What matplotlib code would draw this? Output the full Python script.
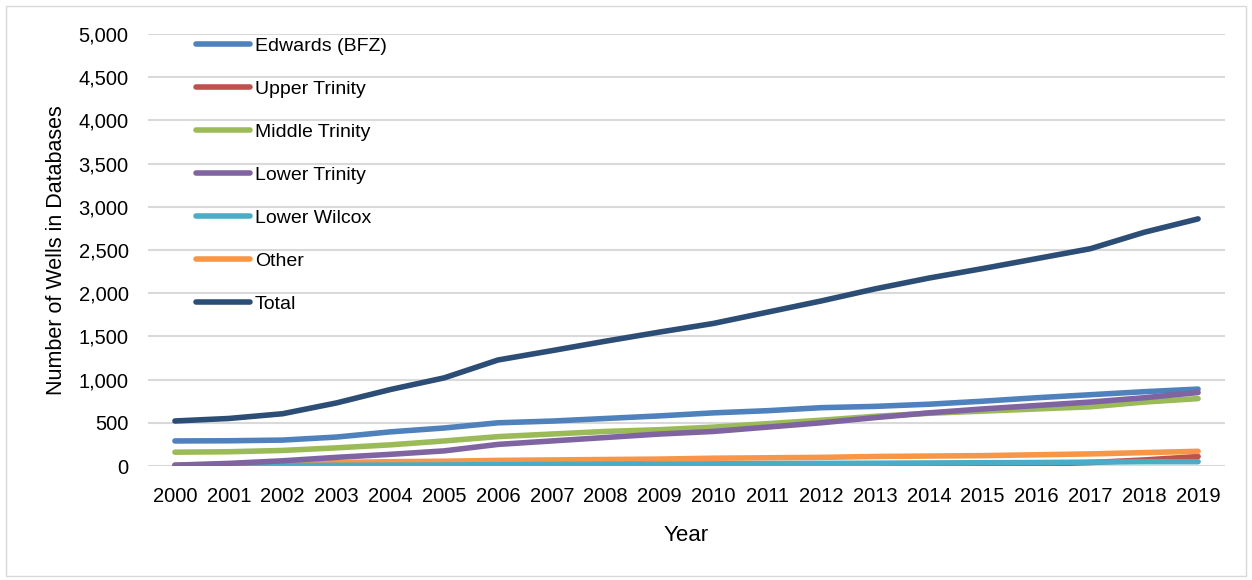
import matplotlib
matplotlib.use("Agg")
import matplotlib.pyplot as plt
from matplotlib.patches import Rectangle
from matplotlib.ticker import FuncFormatter

plt.rcParams['font.family'] = ['Liberation Sans', 'DejaVu Sans']

years = [str(y) for y in range(2000, 2020)]
edwards = [290, 292, 300, 335, 395, 440, 500, 520, 550, 580, 615, 640, 675, 690, 715, 750, 790, 825, 860, 890]
upper_trinity = [0, 0, 0, 0, 0, 1, 2, 3, 3, 4, 5, 6, 8, 10, 12, 15, 20, 40, 70, 110]
middle_trinity = [160, 165, 180, 210, 245, 290, 340, 370, 400, 420, 450, 490, 530, 575, 610, 635, 660, 685, 740, 780]
lower_trinity = [10, 30, 60, 100, 135, 175, 250, 290, 330, 370, 400, 450, 500, 560, 615, 660, 700, 740, 790, 850]
lower_wilcox = [0, 2, 5, 8, 10, 12, 15, 18, 20, 22, 25, 28, 30, 32, 35, 38, 40, 45, 50, 50]
other = [10, 20, 30, 40, 50, 55, 65, 70, 75, 80, 90, 95, 100, 110, 115, 120, 130, 140, 155, 170]
total = [521, 550, 605, 730, 885, 1020, 1227, 1335, 1445, 1550, 1650, 1780, 1910, 2050, 2175, 2285, 2400, 2515, 2705, 2860]

series = [
    ("Edwards (BFZ)", edwards, "#4F81BD"),
    ("Upper Trinity", upper_trinity, "#C0504D"),
    ("Middle Trinity", middle_trinity, "#9BBB59"),
    ("Lower Trinity", lower_trinity, "#8064A2"),
    ("Lower Wilcox", lower_wilcox, "#4BACC6"),
    ("Other", other, "#F79646"),
    ("Total", total, "#2C4D75"),
]

fig = plt.figure(figsize=(12.52, 5.8), dpi=100)
ax = fig.add_axes([148/1252, 1-466/580, (1225-148)/1252, (466-34)/580])

x = list(range(len(years)))
zorders = {"Edwards (BFZ)": 5, "Upper Trinity": 3, "Middle Trinity": 4, "Lower Trinity": 5,
           "Lower Wilcox": 4, "Other": 3, "Total": 6}
for name, vals, col in series:
    ax.plot(x, vals, color=col, lw=4.0, solid_capstyle='round', label=name, zorder=zorders[name])

ax.set_xlim(-0.5, len(years) - 0.5)
ax.set_ylim(0, 5000)
ax.set_yticks(range(0, 5001, 500))
ax.yaxis.set_major_formatter(FuncFormatter(lambda v, p: f"{int(v):,}"))
ax.set_xticks(x)
ax.set_xticklabels(years)
ax.grid(axis='y', color='#D9D9D9', lw=1.5, zorder=0)
ax.set_axisbelow(True)
for s in ax.spines.values():
    s.set_visible(False)
ax.tick_params(axis='both', length=0, labelsize=14.5, colors='black')
ax.tick_params(axis='y', pad=14)
ax.tick_params(axis='x', pad=15)
ax.set_xlabel("Year", fontsize=16, labelpad=14)
ax.set_ylabel("Number of Wells in Databases", fontsize=15.5, labelpad=8)

leg = ax.legend(loc='upper left', bbox_to_anchor=(40/1077, 1.011), frameon=False, fontsize=14,
                handlelength=2.8, handletextpad=0.25, labelspacing=1.31, borderaxespad=0)

fig.patches.append(Rectangle((6/1252, 4/580), 1240/1252, 570/580, transform=fig.transFigure,
                             fill=False, edgecolor='#D9D9D9', lw=1))

fig.savefig("out.png", dpi=100)
